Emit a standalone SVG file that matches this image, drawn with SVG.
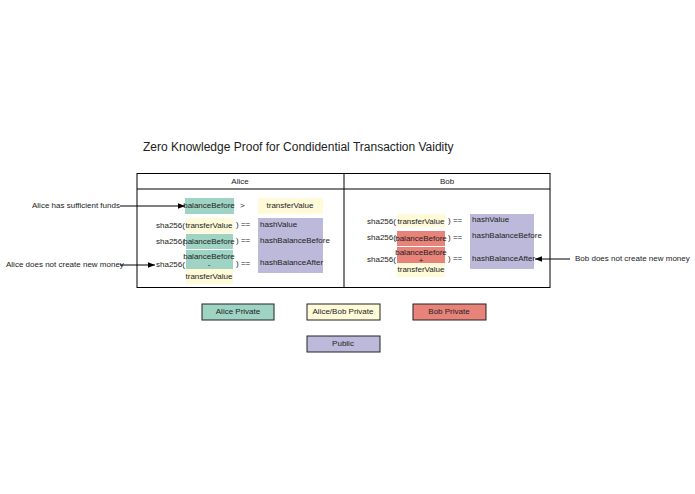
<svg xmlns="http://www.w3.org/2000/svg" width="695" height="494" viewBox="0 0 695 494">
<style>
text{font-family:"Liberation Sans",Arial,sans-serif;font-size:8px;fill:#222}
.m{text-anchor:middle}
.t{fill:#9fd4c4}.y{fill:#fffbd9}.p{fill:#bdb9db}.r{fill:#e8837a}
.lg{stroke:#222;stroke-width:1}
.ln{stroke:#000;stroke-width:1;fill:none}
</style>
<defs><marker id="a" viewBox="0 0 10 10" refX="10" refY="5" markerWidth="7" markerHeight="7" orient="auto"><path d="M0,1 L10,5 L0,9z" fill="#000"/></marker></defs>
<rect width="695" height="494" fill="#fff"/>
<text x="143" y="151" style="font-size:12px">Zero Knowledge Proof for Condidential Transaction Vaidity</text>
<g id="frame">
<rect x="137" y="173.5" width="413" height="114" fill="none" stroke="#000"/>
<line x1="137" y1="189" x2="550" y2="189" stroke="#000"/>
<line x1="344" y1="173.5" x2="344" y2="287.5" stroke="#000"/>
<text class="m" x="240" y="184">Alice</text>
<text class="m" x="447" y="184">Bob</text>
</g>
<g id="alice">
<rect class="t" x="185" y="198" width="49" height="16"/><text class="m" x="209" y="208">balanceBefore</text>
<text x="240" y="208">&gt;</text>
<rect class="y" x="258" y="198" width="65" height="16"/><text class="m" x="290" y="208">transferValue</text>
<rect class="p" x="258" y="218" width="65" height="55"/>
<text x="260" y="227">hashValue</text><text x="260" y="243">hashBalanceBefore</text><text x="260" y="265">hashBalanceAfter</text>
<text x="156" y="228">sha256(</text><rect class="y" x="186" y="218" width="47" height="15"/><text class="m" x="209" y="228">transferValue</text><text x="236" y="227">) ==</text>
<text x="156" y="244">sha256(</text><rect class="t" x="186" y="234" width="47" height="15"/><text class="m" x="209" y="244">balanceBefore</text><text x="236" y="243">) ==</text>
<text x="156" y="267">sha256(</text><rect class="t" x="186" y="250" width="47" height="19"/><text class="m" x="209" y="259">balanceBefore</text><text class="m" x="209" y="267">-</text>
<rect class="y" x="186" y="269" width="47" height="15"/><text class="m" x="209" y="279">transferValue</text><text x="236" y="266">) ==</text>
</g>
<g id="bob">
<rect class="p" x="470" y="214" width="64" height="55"/>
<text x="472" y="222">hashValue</text><text x="472" y="238">hashBalanceBefore</text><text x="472" y="261">hashBalanceAfter</text>
<text x="367" y="224">sha256(</text><rect class="y" x="397" y="214" width="48" height="13"/><text class="m" x="421" y="224">transferValue</text><text x="448" y="223">) ==</text>
<text x="367" y="240">sha256(</text><rect class="r" x="397" y="231" width="48" height="15"/><text class="m" x="421" y="241">balanceBefore</text><text x="448" y="240">) ==</text>
<text x="367" y="262">sha256(</text><rect class="r" x="397" y="247" width="48" height="16"/><text class="m" x="421" y="255">balanceBefore</text><text class="m" x="421" y="263">+</text>
<rect class="y" x="397" y="263" width="48" height="14"/><text class="m" x="421" y="272">transferValue</text><text x="448" y="261">) ==</text>
</g>
<g id="labels">
<text x="32" y="208">Alice has sufficient funds</text>
<text x="6" y="267">Alice does not create new money</text>
<text x="575" y="261">Bob does not create new money</text>
</g>
<g id="connectors">
<line class="ln" x1="120" y1="206" x2="185" y2="206" marker-end="url(#a)"/>
<line class="ln" x1="120" y1="265" x2="155" y2="265" marker-end="url(#a)"/>
<line class="ln" x1="570" y1="259" x2="535" y2="259" marker-end="url(#a)"/>
</g>
<g id="legend">
<rect class="t lg" x="202" y="304" width="72" height="16"/><text class="m" x="238" y="314">Alice Private</text>
<rect class="y lg" x="307" y="304" width="73" height="16"/><text class="m" x="343" y="314">Alice/Bob Private</text>
<rect class="r lg" x="413" y="304" width="73" height="16"/><text class="m" x="449" y="314">Bob Private</text>
<rect class="p lg" x="307" y="336" width="73" height="16"/><text class="m" x="343" y="346">Public</text>
</g>
</svg>
